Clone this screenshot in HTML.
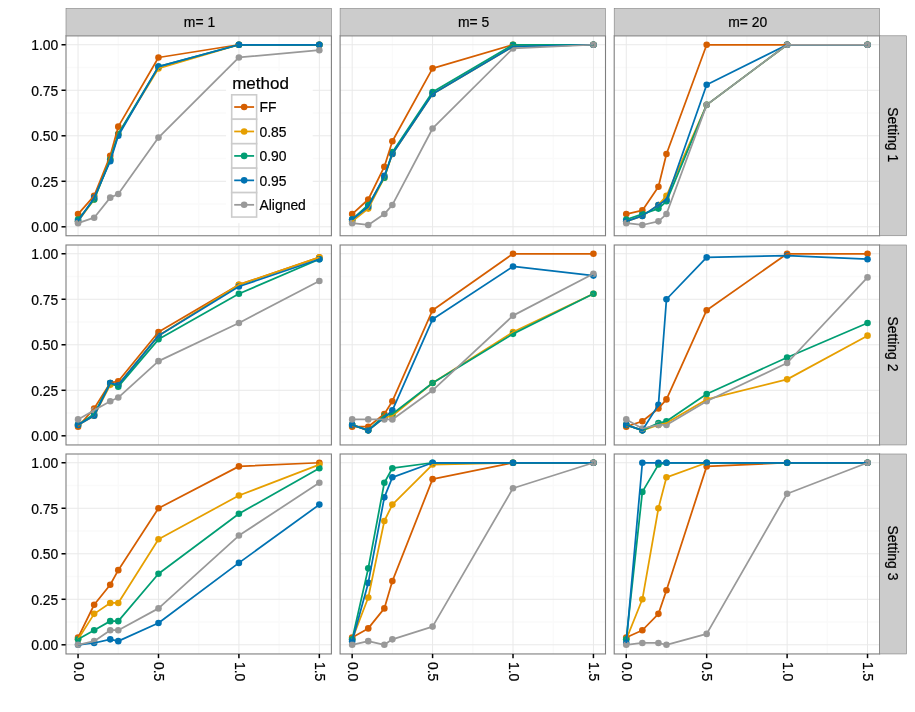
<!DOCTYPE html>
<html lang="en">
<head>
<meta charset="utf-8">
<title>method comparison</title>
<style>
html,body{margin:0;padding:0;background:#fff;}
svg{display:block;}
text{font-family:"Liberation Sans",Arial,Helvetica,sans-serif;fill:#000;stroke:#000;stroke-width:0.2px;}
.ax{font-size:13.9px;}
.st{font-size:13.9px;fill:#000;}
</style>
</head>
<body>
<svg width="915" height="712" viewBox="0 0 915 712">
<rect x="0" y="0" width="915" height="712" fill="#ffffff"/>
<g>
<rect x="66" y="35.8" width="265.4" height="199.95" fill="#ffffff"/>
<line x1="66" x2="331.4" y1="204.04" y2="204.04" stroke="#fafafa" stroke-width="1.4"/>
<line x1="66" x2="331.4" y1="158.53" y2="158.53" stroke="#fafafa" stroke-width="1.4"/>
<line x1="66" x2="331.4" y1="113.02" y2="113.02" stroke="#fafafa" stroke-width="1.4"/>
<line x1="66" x2="331.4" y1="67.51" y2="67.51" stroke="#fafafa" stroke-width="1.4"/>
<line x1="118.27" x2="118.27" y1="35.8" y2="235.75" stroke="#fafafa" stroke-width="1.4"/>
<line x1="198.7" x2="198.7" y1="35.8" y2="235.75" stroke="#fafafa" stroke-width="1.4"/>
<line x1="279.12" x2="279.12" y1="35.8" y2="235.75" stroke="#fafafa" stroke-width="1.4"/>
<line x1="66" x2="331.4" y1="226.8" y2="226.8" stroke="#e9e9e9" stroke-width="1"/>
<line x1="66" x2="331.4" y1="181.29" y2="181.29" stroke="#e9e9e9" stroke-width="1"/>
<line x1="66" x2="331.4" y1="135.78" y2="135.78" stroke="#e9e9e9" stroke-width="1"/>
<line x1="66" x2="331.4" y1="90.26" y2="90.26" stroke="#e9e9e9" stroke-width="1"/>
<line x1="66" x2="331.4" y1="44.75" y2="44.75" stroke="#e9e9e9" stroke-width="1"/>
<line x1="78.06" x2="78.06" y1="35.8" y2="235.75" stroke="#e9e9e9" stroke-width="1"/>
<line x1="158.49" x2="158.49" y1="35.8" y2="235.75" stroke="#e9e9e9" stroke-width="1"/>
<line x1="238.91" x2="238.91" y1="35.8" y2="235.75" stroke="#e9e9e9" stroke-width="1"/>
<line x1="319.33" x2="319.33" y1="35.8" y2="235.75" stroke="#e9e9e9" stroke-width="1"/>
<circle cx="78.06" cy="214.06" r="3.3" fill="#D55E00"/>
<circle cx="94.15" cy="195.85" r="3.3" fill="#D55E00"/>
<circle cx="110.23" cy="155.8" r="3.3" fill="#D55E00"/>
<circle cx="118.27" cy="126.67" r="3.3" fill="#D55E00"/>
<circle cx="158.49" cy="57.49" r="3.3" fill="#D55E00"/>
<circle cx="238.91" cy="44.75" r="3.3" fill="#D55E00"/>
<circle cx="319.33" cy="44.75" r="3.3" fill="#D55E00"/>
<circle cx="78.06" cy="221.34" r="3.3" fill="#E69F00"/>
<circle cx="94.15" cy="199.49" r="3.3" fill="#E69F00"/>
<circle cx="110.23" cy="159.44" r="3.3" fill="#E69F00"/>
<circle cx="118.27" cy="133.95" r="3.3" fill="#E69F00"/>
<circle cx="158.49" cy="68.42" r="3.3" fill="#E69F00"/>
<circle cx="238.91" cy="44.75" r="3.3" fill="#E69F00"/>
<circle cx="319.33" cy="44.75" r="3.3" fill="#E69F00"/>
<circle cx="78.06" cy="219.52" r="3.3" fill="#009E73"/>
<circle cx="94.15" cy="199.49" r="3.3" fill="#009E73"/>
<circle cx="110.23" cy="159.44" r="3.3" fill="#009E73"/>
<circle cx="118.27" cy="133.95" r="3.3" fill="#009E73"/>
<circle cx="158.49" cy="66.6" r="3.3" fill="#009E73"/>
<circle cx="238.91" cy="44.75" r="3.3" fill="#009E73"/>
<circle cx="319.33" cy="44.75" r="3.3" fill="#009E73"/>
<circle cx="78.06" cy="221.34" r="3.3" fill="#0072B2"/>
<circle cx="94.15" cy="197.67" r="3.3" fill="#0072B2"/>
<circle cx="110.23" cy="161.26" r="3.3" fill="#0072B2"/>
<circle cx="118.27" cy="135.78" r="3.3" fill="#0072B2"/>
<circle cx="158.49" cy="66.6" r="3.3" fill="#0072B2"/>
<circle cx="238.91" cy="44.75" r="3.3" fill="#0072B2"/>
<circle cx="319.33" cy="44.75" r="3.3" fill="#0072B2"/>
<circle cx="78.06" cy="223.16" r="3.3" fill="#999999"/>
<circle cx="94.15" cy="217.7" r="3.3" fill="#999999"/>
<circle cx="110.23" cy="197.67" r="3.3" fill="#999999"/>
<circle cx="118.27" cy="194.03" r="3.3" fill="#999999"/>
<circle cx="158.49" cy="137.6" r="3.3" fill="#999999"/>
<circle cx="238.91" cy="57.49" r="3.3" fill="#999999"/>
<circle cx="319.33" cy="50.21" r="3.3" fill="#999999"/>
<polyline points="78.06,214.06 94.15,195.85 110.23,155.8 118.27,126.67 158.49,57.49 238.91,44.75 319.33,44.75" fill="none" stroke="#D55E00" stroke-width="1.75" stroke-linejoin="round" stroke-linecap="butt"/>
<polyline points="78.06,221.34 94.15,199.49 110.23,159.44 118.27,133.95 158.49,68.42 238.91,44.75 319.33,44.75" fill="none" stroke="#E69F00" stroke-width="1.75" stroke-linejoin="round" stroke-linecap="butt"/>
<polyline points="78.06,219.52 94.15,199.49 110.23,159.44 118.27,133.95 158.49,66.6 238.91,44.75 319.33,44.75" fill="none" stroke="#009E73" stroke-width="1.75" stroke-linejoin="round" stroke-linecap="butt"/>
<polyline points="78.06,221.34 94.15,197.67 110.23,161.26 118.27,135.78 158.49,66.6 238.91,44.75 319.33,44.75" fill="none" stroke="#0072B2" stroke-width="1.75" stroke-linejoin="round" stroke-linecap="butt"/>
<polyline points="78.06,223.16 94.15,217.7 110.23,197.67 118.27,194.03 158.49,137.6 238.91,57.49 319.33,50.21" fill="none" stroke="#999999" stroke-width="1.75" stroke-linejoin="round" stroke-linecap="butt"/>
<g>
<rect x="226.1" y="71" width="86.6" height="152.2" fill="#ffffff"/>
<text x="232.2" y="89" style="font-size:17px">method</text>
<rect x="231.7" y="94.8" width="24.9" height="24.45" fill="#ffffff" stroke="#cccccc" stroke-width="1.6"/>
<line x1="234.2" x2="254.1" y1="107.02" y2="107.02" stroke="#D55E00" stroke-width="1.75"/>
<circle cx="244.15" cy="107.02" r="3.3" fill="#D55E00"/>
<text class="ax" x="259.5" y="112.42">FF</text>
<rect x="231.7" y="119.25" width="24.9" height="24.45" fill="#ffffff" stroke="#cccccc" stroke-width="1.6"/>
<line x1="234.2" x2="254.1" y1="131.47" y2="131.47" stroke="#E69F00" stroke-width="1.75"/>
<circle cx="244.15" cy="131.47" r="3.3" fill="#E69F00"/>
<text class="ax" x="259.5" y="136.88">0.85</text>
<rect x="231.7" y="143.7" width="24.9" height="24.45" fill="#ffffff" stroke="#cccccc" stroke-width="1.6"/>
<line x1="234.2" x2="254.1" y1="155.92" y2="155.92" stroke="#009E73" stroke-width="1.75"/>
<circle cx="244.15" cy="155.92" r="3.3" fill="#009E73"/>
<text class="ax" x="259.5" y="161.32">0.90</text>
<rect x="231.7" y="168.15" width="24.9" height="24.45" fill="#ffffff" stroke="#cccccc" stroke-width="1.6"/>
<line x1="234.2" x2="254.1" y1="180.37" y2="180.37" stroke="#0072B2" stroke-width="1.75"/>
<circle cx="244.15" cy="180.37" r="3.3" fill="#0072B2"/>
<text class="ax" x="259.5" y="185.77">0.95</text>
<rect x="231.7" y="192.6" width="24.9" height="24.45" fill="#ffffff" stroke="#cccccc" stroke-width="1.6"/>
<line x1="234.2" x2="254.1" y1="204.82" y2="204.82" stroke="#999999" stroke-width="1.75"/>
<circle cx="244.15" cy="204.82" r="3.3" fill="#999999"/>
<text class="ax" x="259.5" y="210.22">Aligned</text>
</g>
<rect x="66" y="35.8" width="265.4" height="199.95" fill="none" stroke="#7f7f7f" stroke-width="1.1"/>
</g>
<g>
<rect x="340.1" y="35.8" width="265.4" height="199.95" fill="#ffffff"/>
<line x1="340.1" x2="605.5" y1="204.04" y2="204.04" stroke="#fafafa" stroke-width="1.4"/>
<line x1="340.1" x2="605.5" y1="158.53" y2="158.53" stroke="#fafafa" stroke-width="1.4"/>
<line x1="340.1" x2="605.5" y1="113.02" y2="113.02" stroke="#fafafa" stroke-width="1.4"/>
<line x1="340.1" x2="605.5" y1="67.51" y2="67.51" stroke="#fafafa" stroke-width="1.4"/>
<line x1="392.37" x2="392.37" y1="35.8" y2="235.75" stroke="#fafafa" stroke-width="1.4"/>
<line x1="472.8" x2="472.8" y1="35.8" y2="235.75" stroke="#fafafa" stroke-width="1.4"/>
<line x1="553.22" x2="553.22" y1="35.8" y2="235.75" stroke="#fafafa" stroke-width="1.4"/>
<line x1="340.1" x2="605.5" y1="226.8" y2="226.8" stroke="#e9e9e9" stroke-width="1"/>
<line x1="340.1" x2="605.5" y1="181.29" y2="181.29" stroke="#e9e9e9" stroke-width="1"/>
<line x1="340.1" x2="605.5" y1="135.78" y2="135.78" stroke="#e9e9e9" stroke-width="1"/>
<line x1="340.1" x2="605.5" y1="90.26" y2="90.26" stroke="#e9e9e9" stroke-width="1"/>
<line x1="340.1" x2="605.5" y1="44.75" y2="44.75" stroke="#e9e9e9" stroke-width="1"/>
<line x1="352.16" x2="352.16" y1="35.8" y2="235.75" stroke="#e9e9e9" stroke-width="1"/>
<line x1="432.59" x2="432.59" y1="35.8" y2="235.75" stroke="#e9e9e9" stroke-width="1"/>
<line x1="513.01" x2="513.01" y1="35.8" y2="235.75" stroke="#e9e9e9" stroke-width="1"/>
<line x1="593.43" x2="593.43" y1="35.8" y2="235.75" stroke="#e9e9e9" stroke-width="1"/>
<circle cx="352.16" cy="214.06" r="3.3" fill="#D55E00"/>
<circle cx="368.25" cy="199.49" r="3.3" fill="#D55E00"/>
<circle cx="384.33" cy="166.72" r="3.3" fill="#D55E00"/>
<circle cx="392.37" cy="141.24" r="3.3" fill="#D55E00"/>
<circle cx="432.59" cy="68.42" r="3.3" fill="#D55E00"/>
<circle cx="513.01" cy="44.75" r="3.3" fill="#D55E00"/>
<circle cx="593.43" cy="44.75" r="3.3" fill="#D55E00"/>
<circle cx="352.16" cy="221.34" r="3.3" fill="#E69F00"/>
<circle cx="368.25" cy="208.6" r="3.3" fill="#E69F00"/>
<circle cx="384.33" cy="177.65" r="3.3" fill="#E69F00"/>
<circle cx="392.37" cy="153.98" r="3.3" fill="#E69F00"/>
<circle cx="432.59" cy="93.9" r="3.3" fill="#E69F00"/>
<circle cx="513.01" cy="46.57" r="3.3" fill="#E69F00"/>
<circle cx="593.43" cy="44.75" r="3.3" fill="#E69F00"/>
<circle cx="352.16" cy="219.52" r="3.3" fill="#009E73"/>
<circle cx="368.25" cy="204.95" r="3.3" fill="#009E73"/>
<circle cx="384.33" cy="177.65" r="3.3" fill="#009E73"/>
<circle cx="392.37" cy="152.16" r="3.3" fill="#009E73"/>
<circle cx="432.59" cy="92.08" r="3.3" fill="#009E73"/>
<circle cx="513.01" cy="44.75" r="3.3" fill="#009E73"/>
<circle cx="593.43" cy="44.75" r="3.3" fill="#009E73"/>
<circle cx="352.16" cy="219.52" r="3.3" fill="#0072B2"/>
<circle cx="368.25" cy="206.77" r="3.3" fill="#0072B2"/>
<circle cx="384.33" cy="175.83" r="3.3" fill="#0072B2"/>
<circle cx="392.37" cy="153.98" r="3.3" fill="#0072B2"/>
<circle cx="432.59" cy="93.9" r="3.3" fill="#0072B2"/>
<circle cx="513.01" cy="46.57" r="3.3" fill="#0072B2"/>
<circle cx="593.43" cy="44.75" r="3.3" fill="#0072B2"/>
<circle cx="352.16" cy="223.16" r="3.3" fill="#999999"/>
<circle cx="368.25" cy="224.98" r="3.3" fill="#999999"/>
<circle cx="384.33" cy="214.06" r="3.3" fill="#999999"/>
<circle cx="392.37" cy="204.95" r="3.3" fill="#999999"/>
<circle cx="432.59" cy="128.49" r="3.3" fill="#999999"/>
<circle cx="513.01" cy="48.39" r="3.3" fill="#999999"/>
<circle cx="593.43" cy="44.75" r="3.3" fill="#999999"/>
<polyline points="352.16,214.06 368.25,199.49 384.33,166.72 392.37,141.24 432.59,68.42 513.01,44.75 593.43,44.75" fill="none" stroke="#D55E00" stroke-width="1.75" stroke-linejoin="round" stroke-linecap="butt"/>
<polyline points="352.16,221.34 368.25,208.6 384.33,177.65 392.37,153.98 432.59,93.9 513.01,46.57 593.43,44.75" fill="none" stroke="#E69F00" stroke-width="1.75" stroke-linejoin="round" stroke-linecap="butt"/>
<polyline points="352.16,219.52 368.25,204.95 384.33,177.65 392.37,152.16 432.59,92.08 513.01,44.75 593.43,44.75" fill="none" stroke="#009E73" stroke-width="1.75" stroke-linejoin="round" stroke-linecap="butt"/>
<polyline points="352.16,219.52 368.25,206.77 384.33,175.83 392.37,153.98 432.59,93.9 513.01,46.57 593.43,44.75" fill="none" stroke="#0072B2" stroke-width="1.75" stroke-linejoin="round" stroke-linecap="butt"/>
<polyline points="352.16,223.16 368.25,224.98 384.33,214.06 392.37,204.95 432.59,128.49 513.01,48.39 593.43,44.75" fill="none" stroke="#999999" stroke-width="1.75" stroke-linejoin="round" stroke-linecap="butt"/>
<rect x="340.1" y="35.8" width="265.4" height="199.95" fill="none" stroke="#7f7f7f" stroke-width="1.1"/>
</g>
<g>
<rect x="614.2" y="35.8" width="265.4" height="199.95" fill="#ffffff"/>
<line x1="614.2" x2="879.6" y1="204.04" y2="204.04" stroke="#fafafa" stroke-width="1.4"/>
<line x1="614.2" x2="879.6" y1="158.53" y2="158.53" stroke="#fafafa" stroke-width="1.4"/>
<line x1="614.2" x2="879.6" y1="113.02" y2="113.02" stroke="#fafafa" stroke-width="1.4"/>
<line x1="614.2" x2="879.6" y1="67.51" y2="67.51" stroke="#fafafa" stroke-width="1.4"/>
<line x1="666.47" x2="666.47" y1="35.8" y2="235.75" stroke="#fafafa" stroke-width="1.4"/>
<line x1="746.9" x2="746.9" y1="35.8" y2="235.75" stroke="#fafafa" stroke-width="1.4"/>
<line x1="827.32" x2="827.32" y1="35.8" y2="235.75" stroke="#fafafa" stroke-width="1.4"/>
<line x1="614.2" x2="879.6" y1="226.8" y2="226.8" stroke="#e9e9e9" stroke-width="1"/>
<line x1="614.2" x2="879.6" y1="181.29" y2="181.29" stroke="#e9e9e9" stroke-width="1"/>
<line x1="614.2" x2="879.6" y1="135.78" y2="135.78" stroke="#e9e9e9" stroke-width="1"/>
<line x1="614.2" x2="879.6" y1="90.26" y2="90.26" stroke="#e9e9e9" stroke-width="1"/>
<line x1="614.2" x2="879.6" y1="44.75" y2="44.75" stroke="#e9e9e9" stroke-width="1"/>
<line x1="626.26" x2="626.26" y1="35.8" y2="235.75" stroke="#e9e9e9" stroke-width="1"/>
<line x1="706.68" x2="706.68" y1="35.8" y2="235.75" stroke="#e9e9e9" stroke-width="1"/>
<line x1="787.11" x2="787.11" y1="35.8" y2="235.75" stroke="#e9e9e9" stroke-width="1"/>
<line x1="867.53" x2="867.53" y1="35.8" y2="235.75" stroke="#e9e9e9" stroke-width="1"/>
<circle cx="626.26" cy="214.06" r="3.3" fill="#D55E00"/>
<circle cx="642.35" cy="210.42" r="3.3" fill="#D55E00"/>
<circle cx="658.43" cy="186.75" r="3.3" fill="#D55E00"/>
<circle cx="666.47" cy="153.98" r="3.3" fill="#D55E00"/>
<circle cx="706.68" cy="44.75" r="3.3" fill="#D55E00"/>
<circle cx="787.11" cy="44.75" r="3.3" fill="#D55E00"/>
<circle cx="867.53" cy="44.75" r="3.3" fill="#D55E00"/>
<circle cx="626.26" cy="221.34" r="3.3" fill="#E69F00"/>
<circle cx="642.35" cy="215.88" r="3.3" fill="#E69F00"/>
<circle cx="658.43" cy="204.95" r="3.3" fill="#E69F00"/>
<circle cx="666.47" cy="195.85" r="3.3" fill="#E69F00"/>
<circle cx="706.68" cy="104.83" r="3.3" fill="#E69F00"/>
<circle cx="787.11" cy="44.75" r="3.3" fill="#E69F00"/>
<circle cx="867.53" cy="44.75" r="3.3" fill="#E69F00"/>
<circle cx="626.26" cy="219.52" r="3.3" fill="#009E73"/>
<circle cx="642.35" cy="214.06" r="3.3" fill="#009E73"/>
<circle cx="658.43" cy="208.6" r="3.3" fill="#009E73"/>
<circle cx="666.47" cy="201.31" r="3.3" fill="#009E73"/>
<circle cx="706.68" cy="104.83" r="3.3" fill="#009E73"/>
<circle cx="787.11" cy="44.75" r="3.3" fill="#009E73"/>
<circle cx="867.53" cy="44.75" r="3.3" fill="#009E73"/>
<circle cx="626.26" cy="221.34" r="3.3" fill="#0072B2"/>
<circle cx="642.35" cy="215.88" r="3.3" fill="#0072B2"/>
<circle cx="658.43" cy="204.95" r="3.3" fill="#0072B2"/>
<circle cx="666.47" cy="199.49" r="3.3" fill="#0072B2"/>
<circle cx="706.68" cy="84.8" r="3.3" fill="#0072B2"/>
<circle cx="787.11" cy="44.75" r="3.3" fill="#0072B2"/>
<circle cx="867.53" cy="44.75" r="3.3" fill="#0072B2"/>
<circle cx="626.26" cy="223.16" r="3.3" fill="#999999"/>
<circle cx="642.35" cy="224.98" r="3.3" fill="#999999"/>
<circle cx="658.43" cy="221.34" r="3.3" fill="#999999"/>
<circle cx="666.47" cy="214.06" r="3.3" fill="#999999"/>
<circle cx="706.68" cy="104.83" r="3.3" fill="#999999"/>
<circle cx="787.11" cy="44.75" r="3.3" fill="#999999"/>
<circle cx="867.53" cy="44.75" r="3.3" fill="#999999"/>
<polyline points="626.26,214.06 642.35,210.42 658.43,186.75 666.47,153.98 706.68,44.75 787.11,44.75 867.53,44.75" fill="none" stroke="#D55E00" stroke-width="1.75" stroke-linejoin="round" stroke-linecap="butt"/>
<polyline points="626.26,221.34 642.35,215.88 658.43,204.95 666.47,195.85 706.68,104.83 787.11,44.75 867.53,44.75" fill="none" stroke="#E69F00" stroke-width="1.75" stroke-linejoin="round" stroke-linecap="butt"/>
<polyline points="626.26,219.52 642.35,214.06 658.43,208.6 666.47,201.31 706.68,104.83 787.11,44.75 867.53,44.75" fill="none" stroke="#009E73" stroke-width="1.75" stroke-linejoin="round" stroke-linecap="butt"/>
<polyline points="626.26,221.34 642.35,215.88 658.43,204.95 666.47,199.49 706.68,84.8 787.11,44.75 867.53,44.75" fill="none" stroke="#0072B2" stroke-width="1.75" stroke-linejoin="round" stroke-linecap="butt"/>
<polyline points="626.26,223.16 642.35,224.98 658.43,221.34 666.47,214.06 706.68,104.83 787.11,44.75 867.53,44.75" fill="none" stroke="#999999" stroke-width="1.75" stroke-linejoin="round" stroke-linecap="butt"/>
<rect x="614.2" y="35.8" width="265.4" height="199.95" fill="none" stroke="#7f7f7f" stroke-width="1.1"/>
</g>
<g>
<rect x="66" y="245" width="265.4" height="199.95" fill="#ffffff"/>
<line x1="66" x2="331.4" y1="413.04" y2="413.04" stroke="#fafafa" stroke-width="1.4"/>
<line x1="66" x2="331.4" y1="367.53" y2="367.53" stroke="#fafafa" stroke-width="1.4"/>
<line x1="66" x2="331.4" y1="322.02" y2="322.02" stroke="#fafafa" stroke-width="1.4"/>
<line x1="66" x2="331.4" y1="276.51" y2="276.51" stroke="#fafafa" stroke-width="1.4"/>
<line x1="118.27" x2="118.27" y1="245" y2="444.95" stroke="#fafafa" stroke-width="1.4"/>
<line x1="198.7" x2="198.7" y1="245" y2="444.95" stroke="#fafafa" stroke-width="1.4"/>
<line x1="279.12" x2="279.12" y1="245" y2="444.95" stroke="#fafafa" stroke-width="1.4"/>
<line x1="66" x2="331.4" y1="435.8" y2="435.8" stroke="#e9e9e9" stroke-width="1"/>
<line x1="66" x2="331.4" y1="390.29" y2="390.29" stroke="#e9e9e9" stroke-width="1"/>
<line x1="66" x2="331.4" y1="344.77" y2="344.77" stroke="#e9e9e9" stroke-width="1"/>
<line x1="66" x2="331.4" y1="299.26" y2="299.26" stroke="#e9e9e9" stroke-width="1"/>
<line x1="66" x2="331.4" y1="253.75" y2="253.75" stroke="#e9e9e9" stroke-width="1"/>
<line x1="78.06" x2="78.06" y1="245" y2="444.95" stroke="#e9e9e9" stroke-width="1"/>
<line x1="158.49" x2="158.49" y1="245" y2="444.95" stroke="#e9e9e9" stroke-width="1"/>
<line x1="238.91" x2="238.91" y1="245" y2="444.95" stroke="#e9e9e9" stroke-width="1"/>
<line x1="319.33" x2="319.33" y1="245" y2="444.95" stroke="#e9e9e9" stroke-width="1"/>
<circle cx="78.06" cy="426.7" r="3.3" fill="#D55E00"/>
<circle cx="94.15" cy="408.49" r="3.3" fill="#D55E00"/>
<circle cx="110.23" cy="383.01" r="3.3" fill="#D55E00"/>
<circle cx="118.27" cy="381.19" r="3.3" fill="#D55E00"/>
<circle cx="158.49" cy="332.03" r="3.3" fill="#D55E00"/>
<circle cx="238.91" cy="284.7" r="3.3" fill="#D55E00"/>
<circle cx="319.33" cy="257.39" r="3.3" fill="#D55E00"/>
<circle cx="78.06" cy="424.88" r="3.3" fill="#E69F00"/>
<circle cx="94.15" cy="415.77" r="3.3" fill="#E69F00"/>
<circle cx="110.23" cy="384.83" r="3.3" fill="#E69F00"/>
<circle cx="118.27" cy="384.83" r="3.3" fill="#E69F00"/>
<circle cx="158.49" cy="335.67" r="3.3" fill="#E69F00"/>
<circle cx="238.91" cy="284.7" r="3.3" fill="#E69F00"/>
<circle cx="319.33" cy="257.39" r="3.3" fill="#E69F00"/>
<circle cx="78.06" cy="424.88" r="3.3" fill="#009E73"/>
<circle cx="94.15" cy="413.95" r="3.3" fill="#009E73"/>
<circle cx="110.23" cy="383.01" r="3.3" fill="#009E73"/>
<circle cx="118.27" cy="386.65" r="3.3" fill="#009E73"/>
<circle cx="158.49" cy="339.31" r="3.3" fill="#009E73"/>
<circle cx="238.91" cy="293.8" r="3.3" fill="#009E73"/>
<circle cx="319.33" cy="259.21" r="3.3" fill="#009E73"/>
<circle cx="78.06" cy="424.88" r="3.3" fill="#0072B2"/>
<circle cx="94.15" cy="415.77" r="3.3" fill="#0072B2"/>
<circle cx="110.23" cy="383.01" r="3.3" fill="#0072B2"/>
<circle cx="118.27" cy="384.83" r="3.3" fill="#0072B2"/>
<circle cx="158.49" cy="335.67" r="3.3" fill="#0072B2"/>
<circle cx="238.91" cy="286.52" r="3.3" fill="#0072B2"/>
<circle cx="319.33" cy="259.21" r="3.3" fill="#0072B2"/>
<circle cx="78.06" cy="419.42" r="3.3" fill="#999999"/>
<circle cx="94.15" cy="410.31" r="3.3" fill="#999999"/>
<circle cx="110.23" cy="401.21" r="3.3" fill="#999999"/>
<circle cx="118.27" cy="397.57" r="3.3" fill="#999999"/>
<circle cx="158.49" cy="361.16" r="3.3" fill="#999999"/>
<circle cx="238.91" cy="322.93" r="3.3" fill="#999999"/>
<circle cx="319.33" cy="281.06" r="3.3" fill="#999999"/>
<polyline points="78.06,426.7 94.15,408.49 110.23,383.01 118.27,381.19 158.49,332.03 238.91,284.7 319.33,257.39" fill="none" stroke="#D55E00" stroke-width="1.75" stroke-linejoin="round" stroke-linecap="butt"/>
<polyline points="78.06,424.88 94.15,415.77 110.23,384.83 118.27,384.83 158.49,335.67 238.91,284.7 319.33,257.39" fill="none" stroke="#E69F00" stroke-width="1.75" stroke-linejoin="round" stroke-linecap="butt"/>
<polyline points="78.06,424.88 94.15,413.95 110.23,383.01 118.27,386.65 158.49,339.31 238.91,293.8 319.33,259.21" fill="none" stroke="#009E73" stroke-width="1.75" stroke-linejoin="round" stroke-linecap="butt"/>
<polyline points="78.06,424.88 94.15,415.77 110.23,383.01 118.27,384.83 158.49,335.67 238.91,286.52 319.33,259.21" fill="none" stroke="#0072B2" stroke-width="1.75" stroke-linejoin="round" stroke-linecap="butt"/>
<polyline points="78.06,419.42 94.15,410.31 110.23,401.21 118.27,397.57 158.49,361.16 238.91,322.93 319.33,281.06" fill="none" stroke="#999999" stroke-width="1.75" stroke-linejoin="round" stroke-linecap="butt"/>
<rect x="66" y="245" width="265.4" height="199.95" fill="none" stroke="#7f7f7f" stroke-width="1.1"/>
</g>
<g>
<rect x="340.1" y="245" width="265.4" height="199.95" fill="#ffffff"/>
<line x1="340.1" x2="605.5" y1="413.04" y2="413.04" stroke="#fafafa" stroke-width="1.4"/>
<line x1="340.1" x2="605.5" y1="367.53" y2="367.53" stroke="#fafafa" stroke-width="1.4"/>
<line x1="340.1" x2="605.5" y1="322.02" y2="322.02" stroke="#fafafa" stroke-width="1.4"/>
<line x1="340.1" x2="605.5" y1="276.51" y2="276.51" stroke="#fafafa" stroke-width="1.4"/>
<line x1="392.37" x2="392.37" y1="245" y2="444.95" stroke="#fafafa" stroke-width="1.4"/>
<line x1="472.8" x2="472.8" y1="245" y2="444.95" stroke="#fafafa" stroke-width="1.4"/>
<line x1="553.22" x2="553.22" y1="245" y2="444.95" stroke="#fafafa" stroke-width="1.4"/>
<line x1="340.1" x2="605.5" y1="435.8" y2="435.8" stroke="#e9e9e9" stroke-width="1"/>
<line x1="340.1" x2="605.5" y1="390.29" y2="390.29" stroke="#e9e9e9" stroke-width="1"/>
<line x1="340.1" x2="605.5" y1="344.77" y2="344.77" stroke="#e9e9e9" stroke-width="1"/>
<line x1="340.1" x2="605.5" y1="299.26" y2="299.26" stroke="#e9e9e9" stroke-width="1"/>
<line x1="340.1" x2="605.5" y1="253.75" y2="253.75" stroke="#e9e9e9" stroke-width="1"/>
<line x1="352.16" x2="352.16" y1="245" y2="444.95" stroke="#e9e9e9" stroke-width="1"/>
<line x1="432.59" x2="432.59" y1="245" y2="444.95" stroke="#e9e9e9" stroke-width="1"/>
<line x1="513.01" x2="513.01" y1="245" y2="444.95" stroke="#e9e9e9" stroke-width="1"/>
<line x1="593.43" x2="593.43" y1="245" y2="444.95" stroke="#e9e9e9" stroke-width="1"/>
<circle cx="352.16" cy="426.7" r="3.3" fill="#D55E00"/>
<circle cx="368.25" cy="426.7" r="3.3" fill="#D55E00"/>
<circle cx="384.33" cy="413.95" r="3.3" fill="#D55E00"/>
<circle cx="392.37" cy="401.21" r="3.3" fill="#D55E00"/>
<circle cx="432.59" cy="310.19" r="3.3" fill="#D55E00"/>
<circle cx="513.01" cy="253.75" r="3.3" fill="#D55E00"/>
<circle cx="593.43" cy="253.75" r="3.3" fill="#D55E00"/>
<circle cx="352.16" cy="424.88" r="3.3" fill="#E69F00"/>
<circle cx="368.25" cy="430.34" r="3.3" fill="#E69F00"/>
<circle cx="384.33" cy="417.6" r="3.3" fill="#E69F00"/>
<circle cx="392.37" cy="415.77" r="3.3" fill="#E69F00"/>
<circle cx="432.59" cy="383.01" r="3.3" fill="#E69F00"/>
<circle cx="513.01" cy="332.03" r="3.3" fill="#E69F00"/>
<circle cx="593.43" cy="293.8" r="3.3" fill="#E69F00"/>
<circle cx="352.16" cy="424.88" r="3.3" fill="#009E73"/>
<circle cx="368.25" cy="430.34" r="3.3" fill="#009E73"/>
<circle cx="384.33" cy="415.77" r="3.3" fill="#009E73"/>
<circle cx="392.37" cy="413.95" r="3.3" fill="#009E73"/>
<circle cx="432.59" cy="383.01" r="3.3" fill="#009E73"/>
<circle cx="513.01" cy="333.85" r="3.3" fill="#009E73"/>
<circle cx="593.43" cy="293.8" r="3.3" fill="#009E73"/>
<circle cx="352.16" cy="424.88" r="3.3" fill="#0072B2"/>
<circle cx="368.25" cy="430.34" r="3.3" fill="#0072B2"/>
<circle cx="384.33" cy="417.6" r="3.3" fill="#0072B2"/>
<circle cx="392.37" cy="410.31" r="3.3" fill="#0072B2"/>
<circle cx="432.59" cy="319.29" r="3.3" fill="#0072B2"/>
<circle cx="513.01" cy="266.49" r="3.3" fill="#0072B2"/>
<circle cx="593.43" cy="275.6" r="3.3" fill="#0072B2"/>
<circle cx="352.16" cy="419.42" r="3.3" fill="#999999"/>
<circle cx="368.25" cy="419.42" r="3.3" fill="#999999"/>
<circle cx="384.33" cy="419.42" r="3.3" fill="#999999"/>
<circle cx="392.37" cy="419.42" r="3.3" fill="#999999"/>
<circle cx="432.59" cy="390.29" r="3.3" fill="#999999"/>
<circle cx="513.01" cy="315.65" r="3.3" fill="#999999"/>
<circle cx="593.43" cy="273.78" r="3.3" fill="#999999"/>
<polyline points="352.16,426.7 368.25,426.7 384.33,413.95 392.37,401.21 432.59,310.19 513.01,253.75 593.43,253.75" fill="none" stroke="#D55E00" stroke-width="1.75" stroke-linejoin="round" stroke-linecap="butt"/>
<polyline points="352.16,424.88 368.25,430.34 384.33,417.6 392.37,415.77 432.59,383.01 513.01,332.03 593.43,293.8" fill="none" stroke="#E69F00" stroke-width="1.75" stroke-linejoin="round" stroke-linecap="butt"/>
<polyline points="352.16,424.88 368.25,430.34 384.33,415.77 392.37,413.95 432.59,383.01 513.01,333.85 593.43,293.8" fill="none" stroke="#009E73" stroke-width="1.75" stroke-linejoin="round" stroke-linecap="butt"/>
<polyline points="352.16,424.88 368.25,430.34 384.33,417.6 392.37,410.31 432.59,319.29 513.01,266.49 593.43,275.6" fill="none" stroke="#0072B2" stroke-width="1.75" stroke-linejoin="round" stroke-linecap="butt"/>
<polyline points="352.16,419.42 368.25,419.42 384.33,419.42 392.37,419.42 432.59,390.29 513.01,315.65 593.43,273.78" fill="none" stroke="#999999" stroke-width="1.75" stroke-linejoin="round" stroke-linecap="butt"/>
<rect x="340.1" y="245" width="265.4" height="199.95" fill="none" stroke="#7f7f7f" stroke-width="1.1"/>
</g>
<g>
<rect x="614.2" y="245" width="265.4" height="199.95" fill="#ffffff"/>
<line x1="614.2" x2="879.6" y1="413.04" y2="413.04" stroke="#fafafa" stroke-width="1.4"/>
<line x1="614.2" x2="879.6" y1="367.53" y2="367.53" stroke="#fafafa" stroke-width="1.4"/>
<line x1="614.2" x2="879.6" y1="322.02" y2="322.02" stroke="#fafafa" stroke-width="1.4"/>
<line x1="614.2" x2="879.6" y1="276.51" y2="276.51" stroke="#fafafa" stroke-width="1.4"/>
<line x1="666.47" x2="666.47" y1="245" y2="444.95" stroke="#fafafa" stroke-width="1.4"/>
<line x1="746.9" x2="746.9" y1="245" y2="444.95" stroke="#fafafa" stroke-width="1.4"/>
<line x1="827.32" x2="827.32" y1="245" y2="444.95" stroke="#fafafa" stroke-width="1.4"/>
<line x1="614.2" x2="879.6" y1="435.8" y2="435.8" stroke="#e9e9e9" stroke-width="1"/>
<line x1="614.2" x2="879.6" y1="390.29" y2="390.29" stroke="#e9e9e9" stroke-width="1"/>
<line x1="614.2" x2="879.6" y1="344.77" y2="344.77" stroke="#e9e9e9" stroke-width="1"/>
<line x1="614.2" x2="879.6" y1="299.26" y2="299.26" stroke="#e9e9e9" stroke-width="1"/>
<line x1="614.2" x2="879.6" y1="253.75" y2="253.75" stroke="#e9e9e9" stroke-width="1"/>
<line x1="626.26" x2="626.26" y1="245" y2="444.95" stroke="#e9e9e9" stroke-width="1"/>
<line x1="706.68" x2="706.68" y1="245" y2="444.95" stroke="#e9e9e9" stroke-width="1"/>
<line x1="787.11" x2="787.11" y1="245" y2="444.95" stroke="#e9e9e9" stroke-width="1"/>
<line x1="867.53" x2="867.53" y1="245" y2="444.95" stroke="#e9e9e9" stroke-width="1"/>
<circle cx="626.26" cy="426.7" r="3.3" fill="#D55E00"/>
<circle cx="642.35" cy="421.24" r="3.3" fill="#D55E00"/>
<circle cx="658.43" cy="408.49" r="3.3" fill="#D55E00"/>
<circle cx="666.47" cy="399.39" r="3.3" fill="#D55E00"/>
<circle cx="706.68" cy="310.19" r="3.3" fill="#D55E00"/>
<circle cx="787.11" cy="253.75" r="3.3" fill="#D55E00"/>
<circle cx="867.53" cy="253.75" r="3.3" fill="#D55E00"/>
<circle cx="626.26" cy="424.88" r="3.3" fill="#E69F00"/>
<circle cx="642.35" cy="430.34" r="3.3" fill="#E69F00"/>
<circle cx="658.43" cy="424.88" r="3.3" fill="#E69F00"/>
<circle cx="666.47" cy="423.06" r="3.3" fill="#E69F00"/>
<circle cx="706.68" cy="399.39" r="3.3" fill="#E69F00"/>
<circle cx="787.11" cy="379.36" r="3.3" fill="#E69F00"/>
<circle cx="867.53" cy="335.67" r="3.3" fill="#E69F00"/>
<circle cx="626.26" cy="424.88" r="3.3" fill="#009E73"/>
<circle cx="642.35" cy="430.34" r="3.3" fill="#009E73"/>
<circle cx="658.43" cy="423.06" r="3.3" fill="#009E73"/>
<circle cx="666.47" cy="421.24" r="3.3" fill="#009E73"/>
<circle cx="706.68" cy="393.93" r="3.3" fill="#009E73"/>
<circle cx="787.11" cy="357.52" r="3.3" fill="#009E73"/>
<circle cx="867.53" cy="322.93" r="3.3" fill="#009E73"/>
<circle cx="626.26" cy="424.88" r="3.3" fill="#0072B2"/>
<circle cx="642.35" cy="430.34" r="3.3" fill="#0072B2"/>
<circle cx="658.43" cy="404.85" r="3.3" fill="#0072B2"/>
<circle cx="666.47" cy="299.26" r="3.3" fill="#0072B2"/>
<circle cx="706.68" cy="257.39" r="3.3" fill="#0072B2"/>
<circle cx="787.11" cy="255.57" r="3.3" fill="#0072B2"/>
<circle cx="867.53" cy="259.21" r="3.3" fill="#0072B2"/>
<circle cx="626.26" cy="419.42" r="3.3" fill="#999999"/>
<circle cx="642.35" cy="428.52" r="3.3" fill="#999999"/>
<circle cx="658.43" cy="424.88" r="3.3" fill="#999999"/>
<circle cx="666.47" cy="424.88" r="3.3" fill="#999999"/>
<circle cx="706.68" cy="401.21" r="3.3" fill="#999999"/>
<circle cx="787.11" cy="362.98" r="3.3" fill="#999999"/>
<circle cx="867.53" cy="277.42" r="3.3" fill="#999999"/>
<polyline points="626.26,426.7 642.35,421.24 658.43,408.49 666.47,399.39 706.68,310.19 787.11,253.75 867.53,253.75" fill="none" stroke="#D55E00" stroke-width="1.75" stroke-linejoin="round" stroke-linecap="butt"/>
<polyline points="626.26,424.88 642.35,430.34 658.43,424.88 666.47,423.06 706.68,399.39 787.11,379.36 867.53,335.67" fill="none" stroke="#E69F00" stroke-width="1.75" stroke-linejoin="round" stroke-linecap="butt"/>
<polyline points="626.26,424.88 642.35,430.34 658.43,423.06 666.47,421.24 706.68,393.93 787.11,357.52 867.53,322.93" fill="none" stroke="#009E73" stroke-width="1.75" stroke-linejoin="round" stroke-linecap="butt"/>
<polyline points="626.26,424.88 642.35,430.34 658.43,404.85 666.47,299.26 706.68,257.39 787.11,255.57 867.53,259.21" fill="none" stroke="#0072B2" stroke-width="1.75" stroke-linejoin="round" stroke-linecap="butt"/>
<polyline points="626.26,419.42 642.35,428.52 658.43,424.88 666.47,424.88 706.68,401.21 787.11,362.98 867.53,277.42" fill="none" stroke="#999999" stroke-width="1.75" stroke-linejoin="round" stroke-linecap="butt"/>
<rect x="614.2" y="245" width="265.4" height="199.95" fill="none" stroke="#7f7f7f" stroke-width="1.1"/>
</g>
<g>
<rect x="66" y="454" width="265.4" height="199.95" fill="#ffffff"/>
<line x1="66" x2="331.4" y1="622.04" y2="622.04" stroke="#fafafa" stroke-width="1.4"/>
<line x1="66" x2="331.4" y1="576.53" y2="576.53" stroke="#fafafa" stroke-width="1.4"/>
<line x1="66" x2="331.4" y1="531.02" y2="531.02" stroke="#fafafa" stroke-width="1.4"/>
<line x1="66" x2="331.4" y1="485.51" y2="485.51" stroke="#fafafa" stroke-width="1.4"/>
<line x1="118.27" x2="118.27" y1="454" y2="653.95" stroke="#fafafa" stroke-width="1.4"/>
<line x1="198.7" x2="198.7" y1="454" y2="653.95" stroke="#fafafa" stroke-width="1.4"/>
<line x1="279.12" x2="279.12" y1="454" y2="653.95" stroke="#fafafa" stroke-width="1.4"/>
<line x1="66" x2="331.4" y1="644.8" y2="644.8" stroke="#e9e9e9" stroke-width="1"/>
<line x1="66" x2="331.4" y1="599.29" y2="599.29" stroke="#e9e9e9" stroke-width="1"/>
<line x1="66" x2="331.4" y1="553.77" y2="553.77" stroke="#e9e9e9" stroke-width="1"/>
<line x1="66" x2="331.4" y1="508.26" y2="508.26" stroke="#e9e9e9" stroke-width="1"/>
<line x1="66" x2="331.4" y1="462.75" y2="462.75" stroke="#e9e9e9" stroke-width="1"/>
<line x1="78.06" x2="78.06" y1="454" y2="653.95" stroke="#e9e9e9" stroke-width="1"/>
<line x1="158.49" x2="158.49" y1="454" y2="653.95" stroke="#e9e9e9" stroke-width="1"/>
<line x1="238.91" x2="238.91" y1="454" y2="653.95" stroke="#e9e9e9" stroke-width="1"/>
<line x1="319.33" x2="319.33" y1="454" y2="653.95" stroke="#e9e9e9" stroke-width="1"/>
<circle cx="78.06" cy="637.52" r="3.3" fill="#D55E00"/>
<circle cx="94.15" cy="604.75" r="3.3" fill="#D55E00"/>
<circle cx="110.23" cy="584.72" r="3.3" fill="#D55E00"/>
<circle cx="118.27" cy="570.16" r="3.3" fill="#D55E00"/>
<circle cx="158.49" cy="508.26" r="3.3" fill="#D55E00"/>
<circle cx="238.91" cy="466.39" r="3.3" fill="#D55E00"/>
<circle cx="319.33" cy="462.75" r="3.3" fill="#D55E00"/>
<circle cx="78.06" cy="639.34" r="3.3" fill="#E69F00"/>
<circle cx="94.15" cy="613.85" r="3.3" fill="#E69F00"/>
<circle cx="110.23" cy="602.93" r="3.3" fill="#E69F00"/>
<circle cx="118.27" cy="602.93" r="3.3" fill="#E69F00"/>
<circle cx="158.49" cy="539.21" r="3.3" fill="#E69F00"/>
<circle cx="238.91" cy="495.52" r="3.3" fill="#E69F00"/>
<circle cx="319.33" cy="464.57" r="3.3" fill="#E69F00"/>
<circle cx="78.06" cy="639.34" r="3.3" fill="#009E73"/>
<circle cx="94.15" cy="630.24" r="3.3" fill="#009E73"/>
<circle cx="110.23" cy="621.13" r="3.3" fill="#009E73"/>
<circle cx="118.27" cy="621.13" r="3.3" fill="#009E73"/>
<circle cx="158.49" cy="573.8" r="3.3" fill="#009E73"/>
<circle cx="238.91" cy="513.72" r="3.3" fill="#009E73"/>
<circle cx="319.33" cy="468.21" r="3.3" fill="#009E73"/>
<circle cx="78.06" cy="644.8" r="3.3" fill="#0072B2"/>
<circle cx="94.15" cy="642.98" r="3.3" fill="#0072B2"/>
<circle cx="110.23" cy="639.34" r="3.3" fill="#0072B2"/>
<circle cx="118.27" cy="641.16" r="3.3" fill="#0072B2"/>
<circle cx="158.49" cy="622.95" r="3.3" fill="#0072B2"/>
<circle cx="238.91" cy="562.88" r="3.3" fill="#0072B2"/>
<circle cx="319.33" cy="504.62" r="3.3" fill="#0072B2"/>
<circle cx="78.06" cy="644.8" r="3.3" fill="#999999"/>
<circle cx="94.15" cy="641.16" r="3.3" fill="#999999"/>
<circle cx="110.23" cy="630.24" r="3.3" fill="#999999"/>
<circle cx="118.27" cy="630.24" r="3.3" fill="#999999"/>
<circle cx="158.49" cy="608.39" r="3.3" fill="#999999"/>
<circle cx="238.91" cy="535.57" r="3.3" fill="#999999"/>
<circle cx="319.33" cy="482.78" r="3.3" fill="#999999"/>
<polyline points="78.06,637.52 94.15,604.75 110.23,584.72 118.27,570.16 158.49,508.26 238.91,466.39 319.33,462.75" fill="none" stroke="#D55E00" stroke-width="1.75" stroke-linejoin="round" stroke-linecap="butt"/>
<polyline points="78.06,639.34 94.15,613.85 110.23,602.93 118.27,602.93 158.49,539.21 238.91,495.52 319.33,464.57" fill="none" stroke="#E69F00" stroke-width="1.75" stroke-linejoin="round" stroke-linecap="butt"/>
<polyline points="78.06,639.34 94.15,630.24 110.23,621.13 118.27,621.13 158.49,573.8 238.91,513.72 319.33,468.21" fill="none" stroke="#009E73" stroke-width="1.75" stroke-linejoin="round" stroke-linecap="butt"/>
<polyline points="78.06,644.8 94.15,642.98 110.23,639.34 118.27,641.16 158.49,622.95 238.91,562.88 319.33,504.62" fill="none" stroke="#0072B2" stroke-width="1.75" stroke-linejoin="round" stroke-linecap="butt"/>
<polyline points="78.06,644.8 94.15,641.16 110.23,630.24 118.27,630.24 158.49,608.39 238.91,535.57 319.33,482.78" fill="none" stroke="#999999" stroke-width="1.75" stroke-linejoin="round" stroke-linecap="butt"/>
<rect x="66" y="454" width="265.4" height="199.95" fill="none" stroke="#7f7f7f" stroke-width="1.1"/>
</g>
<g>
<rect x="340.1" y="454" width="265.4" height="199.95" fill="#ffffff"/>
<line x1="340.1" x2="605.5" y1="622.04" y2="622.04" stroke="#fafafa" stroke-width="1.4"/>
<line x1="340.1" x2="605.5" y1="576.53" y2="576.53" stroke="#fafafa" stroke-width="1.4"/>
<line x1="340.1" x2="605.5" y1="531.02" y2="531.02" stroke="#fafafa" stroke-width="1.4"/>
<line x1="340.1" x2="605.5" y1="485.51" y2="485.51" stroke="#fafafa" stroke-width="1.4"/>
<line x1="392.37" x2="392.37" y1="454" y2="653.95" stroke="#fafafa" stroke-width="1.4"/>
<line x1="472.8" x2="472.8" y1="454" y2="653.95" stroke="#fafafa" stroke-width="1.4"/>
<line x1="553.22" x2="553.22" y1="454" y2="653.95" stroke="#fafafa" stroke-width="1.4"/>
<line x1="340.1" x2="605.5" y1="644.8" y2="644.8" stroke="#e9e9e9" stroke-width="1"/>
<line x1="340.1" x2="605.5" y1="599.29" y2="599.29" stroke="#e9e9e9" stroke-width="1"/>
<line x1="340.1" x2="605.5" y1="553.77" y2="553.77" stroke="#e9e9e9" stroke-width="1"/>
<line x1="340.1" x2="605.5" y1="508.26" y2="508.26" stroke="#e9e9e9" stroke-width="1"/>
<line x1="340.1" x2="605.5" y1="462.75" y2="462.75" stroke="#e9e9e9" stroke-width="1"/>
<line x1="352.16" x2="352.16" y1="454" y2="653.95" stroke="#e9e9e9" stroke-width="1"/>
<line x1="432.59" x2="432.59" y1="454" y2="653.95" stroke="#e9e9e9" stroke-width="1"/>
<line x1="513.01" x2="513.01" y1="454" y2="653.95" stroke="#e9e9e9" stroke-width="1"/>
<line x1="593.43" x2="593.43" y1="454" y2="653.95" stroke="#e9e9e9" stroke-width="1"/>
<circle cx="352.16" cy="637.52" r="3.3" fill="#D55E00"/>
<circle cx="368.25" cy="628.42" r="3.3" fill="#D55E00"/>
<circle cx="384.33" cy="608.39" r="3.3" fill="#D55E00"/>
<circle cx="392.37" cy="581.08" r="3.3" fill="#D55E00"/>
<circle cx="432.59" cy="479.13" r="3.3" fill="#D55E00"/>
<circle cx="513.01" cy="462.75" r="3.3" fill="#D55E00"/>
<circle cx="593.43" cy="462.75" r="3.3" fill="#D55E00"/>
<circle cx="352.16" cy="639.34" r="3.3" fill="#E69F00"/>
<circle cx="368.25" cy="597.47" r="3.3" fill="#E69F00"/>
<circle cx="384.33" cy="521.01" r="3.3" fill="#E69F00"/>
<circle cx="392.37" cy="504.62" r="3.3" fill="#E69F00"/>
<circle cx="432.59" cy="464.57" r="3.3" fill="#E69F00"/>
<circle cx="513.01" cy="462.75" r="3.3" fill="#E69F00"/>
<circle cx="593.43" cy="462.75" r="3.3" fill="#E69F00"/>
<circle cx="352.16" cy="639.34" r="3.3" fill="#009E73"/>
<circle cx="368.25" cy="568.34" r="3.3" fill="#009E73"/>
<circle cx="384.33" cy="482.78" r="3.3" fill="#009E73"/>
<circle cx="392.37" cy="468.21" r="3.3" fill="#009E73"/>
<circle cx="432.59" cy="462.75" r="3.3" fill="#009E73"/>
<circle cx="513.01" cy="462.75" r="3.3" fill="#009E73"/>
<circle cx="593.43" cy="462.75" r="3.3" fill="#009E73"/>
<circle cx="352.16" cy="641.16" r="3.3" fill="#0072B2"/>
<circle cx="368.25" cy="582.9" r="3.3" fill="#0072B2"/>
<circle cx="384.33" cy="497.34" r="3.3" fill="#0072B2"/>
<circle cx="392.37" cy="477.31" r="3.3" fill="#0072B2"/>
<circle cx="432.59" cy="462.75" r="3.3" fill="#0072B2"/>
<circle cx="513.01" cy="462.75" r="3.3" fill="#0072B2"/>
<circle cx="593.43" cy="462.75" r="3.3" fill="#0072B2"/>
<circle cx="352.16" cy="644.8" r="3.3" fill="#999999"/>
<circle cx="368.25" cy="641.16" r="3.3" fill="#999999"/>
<circle cx="384.33" cy="644.8" r="3.3" fill="#999999"/>
<circle cx="392.37" cy="639.34" r="3.3" fill="#999999"/>
<circle cx="432.59" cy="626.6" r="3.3" fill="#999999"/>
<circle cx="513.01" cy="488.24" r="3.3" fill="#999999"/>
<circle cx="593.43" cy="462.75" r="3.3" fill="#999999"/>
<polyline points="352.16,637.52 368.25,628.42 384.33,608.39 392.37,581.08 432.59,479.13 513.01,462.75 593.43,462.75" fill="none" stroke="#D55E00" stroke-width="1.75" stroke-linejoin="round" stroke-linecap="butt"/>
<polyline points="352.16,639.34 368.25,597.47 384.33,521.01 392.37,504.62 432.59,464.57 513.01,462.75 593.43,462.75" fill="none" stroke="#E69F00" stroke-width="1.75" stroke-linejoin="round" stroke-linecap="butt"/>
<polyline points="352.16,639.34 368.25,568.34 384.33,482.78 392.37,468.21 432.59,462.75 513.01,462.75 593.43,462.75" fill="none" stroke="#009E73" stroke-width="1.75" stroke-linejoin="round" stroke-linecap="butt"/>
<polyline points="352.16,641.16 368.25,582.9 384.33,497.34 392.37,477.31 432.59,462.75 513.01,462.75 593.43,462.75" fill="none" stroke="#0072B2" stroke-width="1.75" stroke-linejoin="round" stroke-linecap="butt"/>
<polyline points="352.16,644.8 368.25,641.16 384.33,644.8 392.37,639.34 432.59,626.6 513.01,488.24 593.43,462.75" fill="none" stroke="#999999" stroke-width="1.75" stroke-linejoin="round" stroke-linecap="butt"/>
<rect x="340.1" y="454" width="265.4" height="199.95" fill="none" stroke="#7f7f7f" stroke-width="1.1"/>
</g>
<g>
<rect x="614.2" y="454" width="265.4" height="199.95" fill="#ffffff"/>
<line x1="614.2" x2="879.6" y1="622.04" y2="622.04" stroke="#fafafa" stroke-width="1.4"/>
<line x1="614.2" x2="879.6" y1="576.53" y2="576.53" stroke="#fafafa" stroke-width="1.4"/>
<line x1="614.2" x2="879.6" y1="531.02" y2="531.02" stroke="#fafafa" stroke-width="1.4"/>
<line x1="614.2" x2="879.6" y1="485.51" y2="485.51" stroke="#fafafa" stroke-width="1.4"/>
<line x1="666.47" x2="666.47" y1="454" y2="653.95" stroke="#fafafa" stroke-width="1.4"/>
<line x1="746.9" x2="746.9" y1="454" y2="653.95" stroke="#fafafa" stroke-width="1.4"/>
<line x1="827.32" x2="827.32" y1="454" y2="653.95" stroke="#fafafa" stroke-width="1.4"/>
<line x1="614.2" x2="879.6" y1="644.8" y2="644.8" stroke="#e9e9e9" stroke-width="1"/>
<line x1="614.2" x2="879.6" y1="599.29" y2="599.29" stroke="#e9e9e9" stroke-width="1"/>
<line x1="614.2" x2="879.6" y1="553.77" y2="553.77" stroke="#e9e9e9" stroke-width="1"/>
<line x1="614.2" x2="879.6" y1="508.26" y2="508.26" stroke="#e9e9e9" stroke-width="1"/>
<line x1="614.2" x2="879.6" y1="462.75" y2="462.75" stroke="#e9e9e9" stroke-width="1"/>
<line x1="626.26" x2="626.26" y1="454" y2="653.95" stroke="#e9e9e9" stroke-width="1"/>
<line x1="706.68" x2="706.68" y1="454" y2="653.95" stroke="#e9e9e9" stroke-width="1"/>
<line x1="787.11" x2="787.11" y1="454" y2="653.95" stroke="#e9e9e9" stroke-width="1"/>
<line x1="867.53" x2="867.53" y1="454" y2="653.95" stroke="#e9e9e9" stroke-width="1"/>
<circle cx="626.26" cy="637.52" r="3.3" fill="#D55E00"/>
<circle cx="642.35" cy="630.24" r="3.3" fill="#D55E00"/>
<circle cx="658.43" cy="613.85" r="3.3" fill="#D55E00"/>
<circle cx="666.47" cy="590.18" r="3.3" fill="#D55E00"/>
<circle cx="706.68" cy="466.39" r="3.3" fill="#D55E00"/>
<circle cx="787.11" cy="462.75" r="3.3" fill="#D55E00"/>
<circle cx="867.53" cy="462.75" r="3.3" fill="#D55E00"/>
<circle cx="626.26" cy="639.34" r="3.3" fill="#E69F00"/>
<circle cx="642.35" cy="599.29" r="3.3" fill="#E69F00"/>
<circle cx="658.43" cy="508.26" r="3.3" fill="#E69F00"/>
<circle cx="666.47" cy="477.31" r="3.3" fill="#E69F00"/>
<circle cx="706.68" cy="462.75" r="3.3" fill="#E69F00"/>
<circle cx="787.11" cy="462.75" r="3.3" fill="#E69F00"/>
<circle cx="867.53" cy="462.75" r="3.3" fill="#E69F00"/>
<circle cx="626.26" cy="639.34" r="3.3" fill="#009E73"/>
<circle cx="642.35" cy="491.88" r="3.3" fill="#009E73"/>
<circle cx="658.43" cy="464.57" r="3.3" fill="#009E73"/>
<circle cx="666.47" cy="462.75" r="3.3" fill="#009E73"/>
<circle cx="706.68" cy="462.75" r="3.3" fill="#009E73"/>
<circle cx="787.11" cy="462.75" r="3.3" fill="#009E73"/>
<circle cx="867.53" cy="462.75" r="3.3" fill="#009E73"/>
<circle cx="626.26" cy="642.98" r="3.3" fill="#0072B2"/>
<circle cx="642.35" cy="462.75" r="3.3" fill="#0072B2"/>
<circle cx="658.43" cy="462.75" r="3.3" fill="#0072B2"/>
<circle cx="666.47" cy="462.75" r="3.3" fill="#0072B2"/>
<circle cx="706.68" cy="462.75" r="3.3" fill="#0072B2"/>
<circle cx="787.11" cy="462.75" r="3.3" fill="#0072B2"/>
<circle cx="867.53" cy="462.75" r="3.3" fill="#0072B2"/>
<circle cx="626.26" cy="644.8" r="3.3" fill="#999999"/>
<circle cx="642.35" cy="642.98" r="3.3" fill="#999999"/>
<circle cx="658.43" cy="642.98" r="3.3" fill="#999999"/>
<circle cx="666.47" cy="644.8" r="3.3" fill="#999999"/>
<circle cx="706.68" cy="633.88" r="3.3" fill="#999999"/>
<circle cx="787.11" cy="493.7" r="3.3" fill="#999999"/>
<circle cx="867.53" cy="462.75" r="3.3" fill="#999999"/>
<polyline points="626.26,637.52 642.35,630.24 658.43,613.85 666.47,590.18 706.68,466.39 787.11,462.75 867.53,462.75" fill="none" stroke="#D55E00" stroke-width="1.75" stroke-linejoin="round" stroke-linecap="butt"/>
<polyline points="626.26,639.34 642.35,599.29 658.43,508.26 666.47,477.31 706.68,462.75 787.11,462.75 867.53,462.75" fill="none" stroke="#E69F00" stroke-width="1.75" stroke-linejoin="round" stroke-linecap="butt"/>
<polyline points="626.26,639.34 642.35,491.88 658.43,464.57 666.47,462.75 706.68,462.75 787.11,462.75 867.53,462.75" fill="none" stroke="#009E73" stroke-width="1.75" stroke-linejoin="round" stroke-linecap="butt"/>
<polyline points="626.26,642.98 642.35,462.75 658.43,462.75 666.47,462.75 706.68,462.75 787.11,462.75 867.53,462.75" fill="none" stroke="#0072B2" stroke-width="1.75" stroke-linejoin="round" stroke-linecap="butt"/>
<polyline points="626.26,644.8 642.35,642.98 658.43,642.98 666.47,644.8 706.68,633.88 787.11,493.7 867.53,462.75" fill="none" stroke="#999999" stroke-width="1.75" stroke-linejoin="round" stroke-linecap="butt"/>
<rect x="614.2" y="454" width="265.4" height="199.95" fill="none" stroke="#7f7f7f" stroke-width="1.1"/>
</g>
<rect x="66" y="8.5" width="265.4" height="27.3" fill="#cccccc" stroke="#7f7f7f" stroke-width="0.6"/>
<text class="st" x="199.5" y="27.1" text-anchor="middle">m= 1</text>
<rect x="340.1" y="8.5" width="265.4" height="27.3" fill="#cccccc" stroke="#7f7f7f" stroke-width="0.6"/>
<text class="st" x="473.6" y="27.1" text-anchor="middle">m= 5</text>
<rect x="614.2" y="8.5" width="265.4" height="27.3" fill="#cccccc" stroke="#7f7f7f" stroke-width="0.6"/>
<text class="st" x="747.7" y="27.1" text-anchor="middle">m= 20</text>
<rect x="879.6" y="35.8" width="26.9" height="199.95" fill="#cccccc" stroke="#7f7f7f" stroke-width="0.6"/>
<text class="st" transform="translate(887.9,134.77) rotate(90)" text-anchor="middle">Setting 1</text>
<rect x="879.6" y="245" width="26.9" height="199.95" fill="#cccccc" stroke="#7f7f7f" stroke-width="0.6"/>
<text class="st" transform="translate(887.9,343.98) rotate(90)" text-anchor="middle">Setting 2</text>
<rect x="879.6" y="454" width="26.9" height="199.95" fill="#cccccc" stroke="#7f7f7f" stroke-width="0.6"/>
<text class="st" transform="translate(887.9,552.98) rotate(90)" text-anchor="middle">Setting 3</text>
<line x1="61.5" x2="65.7" y1="226.8" y2="226.8" stroke="#000" stroke-width="1.5"/>
<text class="ax" x="58.3" y="232.2" text-anchor="end">0.00</text>
<line x1="61.5" x2="65.7" y1="181.29" y2="181.29" stroke="#000" stroke-width="1.5"/>
<text class="ax" x="58.3" y="186.69" text-anchor="end">0.25</text>
<line x1="61.5" x2="65.7" y1="135.78" y2="135.78" stroke="#000" stroke-width="1.5"/>
<text class="ax" x="58.3" y="141.18" text-anchor="end">0.50</text>
<line x1="61.5" x2="65.7" y1="90.26" y2="90.26" stroke="#000" stroke-width="1.5"/>
<text class="ax" x="58.3" y="95.66" text-anchor="end">0.75</text>
<line x1="61.5" x2="65.7" y1="44.75" y2="44.75" stroke="#000" stroke-width="1.5"/>
<text class="ax" x="58.3" y="50.15" text-anchor="end">1.00</text>
<line x1="61.5" x2="65.7" y1="435.8" y2="435.8" stroke="#000" stroke-width="1.5"/>
<text class="ax" x="58.3" y="441.2" text-anchor="end">0.00</text>
<line x1="61.5" x2="65.7" y1="390.29" y2="390.29" stroke="#000" stroke-width="1.5"/>
<text class="ax" x="58.3" y="395.69" text-anchor="end">0.25</text>
<line x1="61.5" x2="65.7" y1="344.77" y2="344.77" stroke="#000" stroke-width="1.5"/>
<text class="ax" x="58.3" y="350.17" text-anchor="end">0.50</text>
<line x1="61.5" x2="65.7" y1="299.26" y2="299.26" stroke="#000" stroke-width="1.5"/>
<text class="ax" x="58.3" y="304.66" text-anchor="end">0.75</text>
<line x1="61.5" x2="65.7" y1="253.75" y2="253.75" stroke="#000" stroke-width="1.5"/>
<text class="ax" x="58.3" y="259.15" text-anchor="end">1.00</text>
<line x1="61.5" x2="65.7" y1="644.8" y2="644.8" stroke="#000" stroke-width="1.5"/>
<text class="ax" x="58.3" y="650.2" text-anchor="end">0.00</text>
<line x1="61.5" x2="65.7" y1="599.29" y2="599.29" stroke="#000" stroke-width="1.5"/>
<text class="ax" x="58.3" y="604.69" text-anchor="end">0.25</text>
<line x1="61.5" x2="65.7" y1="553.77" y2="553.77" stroke="#000" stroke-width="1.5"/>
<text class="ax" x="58.3" y="559.17" text-anchor="end">0.50</text>
<line x1="61.5" x2="65.7" y1="508.26" y2="508.26" stroke="#000" stroke-width="1.5"/>
<text class="ax" x="58.3" y="513.66" text-anchor="end">0.75</text>
<line x1="61.5" x2="65.7" y1="462.75" y2="462.75" stroke="#000" stroke-width="1.5"/>
<text class="ax" x="58.3" y="468.15" text-anchor="end">1.00</text>
<line x1="78.06" x2="78.06" y1="653.95" y2="658.15" stroke="#000" stroke-width="1.5"/>
<text class="ax" transform="translate(73.66,662) rotate(90)" text-anchor="start">0.0</text>
<line x1="158.49" x2="158.49" y1="653.95" y2="658.15" stroke="#000" stroke-width="1.5"/>
<text class="ax" transform="translate(154.09,662) rotate(90)" text-anchor="start">0.5</text>
<line x1="238.91" x2="238.91" y1="653.95" y2="658.15" stroke="#000" stroke-width="1.5"/>
<text class="ax" transform="translate(234.51,662) rotate(90)" text-anchor="start">1.0</text>
<line x1="319.33" x2="319.33" y1="653.95" y2="658.15" stroke="#000" stroke-width="1.5"/>
<text class="ax" transform="translate(314.94,662) rotate(90)" text-anchor="start">1.5</text>
<line x1="352.16" x2="352.16" y1="653.95" y2="658.15" stroke="#000" stroke-width="1.5"/>
<text class="ax" transform="translate(347.76,662) rotate(90)" text-anchor="start">0.0</text>
<line x1="432.59" x2="432.59" y1="653.95" y2="658.15" stroke="#000" stroke-width="1.5"/>
<text class="ax" transform="translate(428.19,662) rotate(90)" text-anchor="start">0.5</text>
<line x1="513.01" x2="513.01" y1="653.95" y2="658.15" stroke="#000" stroke-width="1.5"/>
<text class="ax" transform="translate(508.61,662) rotate(90)" text-anchor="start">1.0</text>
<line x1="593.43" x2="593.43" y1="653.95" y2="658.15" stroke="#000" stroke-width="1.5"/>
<text class="ax" transform="translate(589.03,662) rotate(90)" text-anchor="start">1.5</text>
<line x1="626.26" x2="626.26" y1="653.95" y2="658.15" stroke="#000" stroke-width="1.5"/>
<text class="ax" transform="translate(621.86,662) rotate(90)" text-anchor="start">0.0</text>
<line x1="706.68" x2="706.68" y1="653.95" y2="658.15" stroke="#000" stroke-width="1.5"/>
<text class="ax" transform="translate(702.28,662) rotate(90)" text-anchor="start">0.5</text>
<line x1="787.11" x2="787.11" y1="653.95" y2="658.15" stroke="#000" stroke-width="1.5"/>
<text class="ax" transform="translate(782.71,662) rotate(90)" text-anchor="start">1.0</text>
<line x1="867.53" x2="867.53" y1="653.95" y2="658.15" stroke="#000" stroke-width="1.5"/>
<text class="ax" transform="translate(863.13,662) rotate(90)" text-anchor="start">1.5</text>
</svg>
</body>
</html>
